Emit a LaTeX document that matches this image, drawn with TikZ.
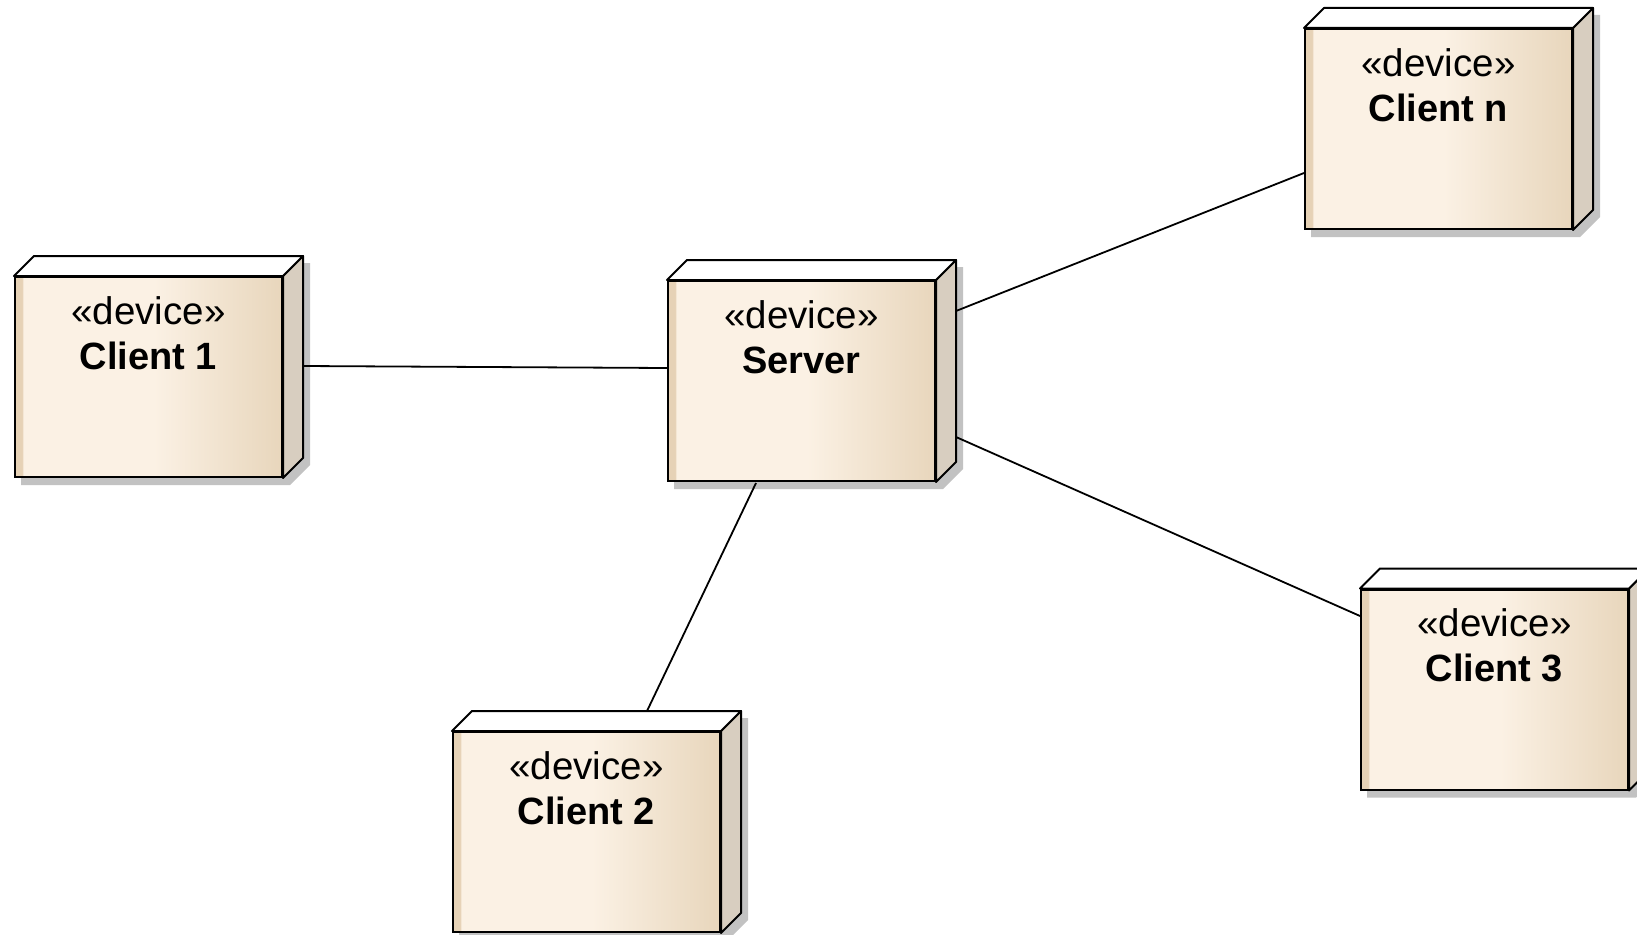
\documentclass[tikz,border=0pt]{standalone}
\usepackage{fontspec}
\setmainfont{Liberation Sans}
\usetikzlibrary{calc}
\pgfdeclarelayer{background}
\pgfsetlayers{background,main}

\definecolor{faceLight}{HTML}{FBF1E4}
\definecolor{faceDark}{HTML}{E8D6BC}
\definecolor{faceEdge}{HTML}{E6D2B6}
\definecolor{sideFace}{HTML}{D8CEC0}
\definecolor{dropShadow}{HTML}{C2C2C2}

% front face: thin darker strip on the left, cream body, warmer towards the right
\pgfdeclarehorizontalshading{devicefront}{100bp}{%
  color(0bp)=(faceEdge); color(26.3bp)=(faceEdge); color(26.6bp)=(faceLight);
  color(51bp)=(faceLight); color(75bp)=(faceDark); color(100bp)=(faceDark)}

\tikzset{
  devbox/.style={rectangle, minimum width=267pt, minimum height=200pt,
    inner sep=0pt, shade, shading=devicefront, draw=black, line width=2pt},
  stereo/.style={anchor=base, inner sep=0pt, font=\fontsize{38.5}{46}\selectfont},
  devname/.style={anchor=base, inner sep=0pt, font=\fontsize{38}{46}\selectfont\bfseries},
  link/.style={draw=black, line width=1.8pt},
  topface/.style={fill=white, draw=black, line width=2pt, line join=round},
  sideface/.style={fill=sideFace, draw=black, line width=2pt, line join=round},
}

\begin{document}
\begin{tikzpicture}[x=1pt, y=-1pt]
  \clip (0,0) rectangle (1637,934);

  % device nodes (front faces)
  \node[devbox] (c1)  at (148.5,377)  {};
  \node[devbox] (srv) at (801.5,381)  {};
  \node[devbox] (cn)  at (1438.5,129) {};
  \node[devbox] (c3)  at (1494.5,689.5) {};
  \node[devbox] (c2)  at (586.5,832)  {};

  % 3D top/side faces, drop shadow and labels
  \foreach \n/\t in {c1/Client 1, srv/Server, cn/Client n, c3/Client 3, c2/Client 2}{
    \begin{pgfonlayer}{background}
      \fill[dropShadow] ($(\n.north west)+(7,7)$) -- ++(20,-20)
        -- ($(\n.north east)+(27,-13)$) -- ($(\n.south east)+(27,-13)$)
        -- ($(\n.south east)+(7,7)$) -- ($(\n.south west)+(7,7)$) -- cycle;
    \end{pgfonlayer}
    \path[sideface] (\n.north east) -- ++(20,-20)
      -- ($(\n.south east)+(20,-20)$) -- (\n.south east) -- cycle;
    \path[topface] (\n.north west) -- ++(20,-20)
      -- ($(\n.north east)+(20,-20)$) -- (\n.north east) -- cycle;
    \node[stereo]  (\n-st) at ($(\n.north)+(0,48)$) {«device»};
    \node[devname] (\n-nm) at ($(\n.north)+(0,93)$) {\t};
  }

  % communication paths
  \draw[link] ($(c1.east)+(20,-11)$)   -- ($(srv.west)+(0,-13)$);
  \draw[link] ($(srv.east)+(20,-70)$)  -- ($(cn.west)+(0,44)$);
  \draw[link] ($(srv.east)+(20,56)$)   -- ($(c3.west)+(0,-73.5)$);
  \draw[link] ($(srv.south)+(-45.5,1)$) -- ($(c2.north)+(60.5,-20)$);
\end{tikzpicture}
\end{document}
